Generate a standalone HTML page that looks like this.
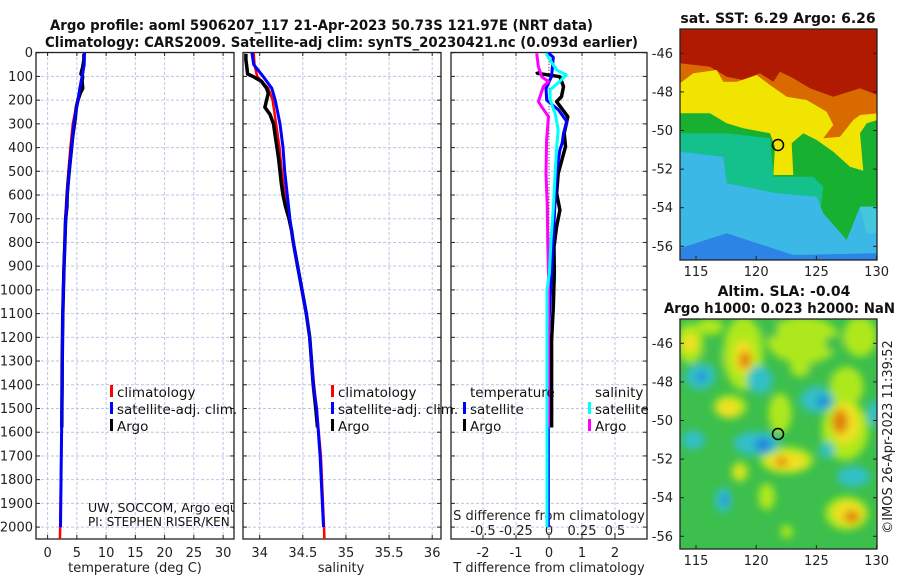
<!DOCTYPE html>
<html><head><meta charset="utf-8"><style>
html,body{margin:0;padding:0;background:#fff;}
svg{display:block;font-family:"DejaVu Sans","Liberation Sans",sans-serif;}
.tk{font-size:13px;fill:#222;}
.ttl{font-size:14px;font-weight:bold;fill:#111;}
.lg{font-size:13.5px;fill:#111;}
.grid{stroke:#b9c6e6;stroke-width:1;stroke-dasharray:3,2;}
</style></head><body>
<svg id="chart" width="900" height="580" viewBox="0 0 900 580">
<defs>
<clipPath id="c1"><rect x="36" y="52" width="198" height="487"/></clipPath>
<clipPath id="c2"><rect x="243" y="52" width="198" height="487"/></clipPath>
<clipPath id="c3"><rect x="451" y="52" width="196" height="487"/></clipPath>
<clipPath id="cm1"><rect x="680" y="29" width="197" height="231"/></clipPath>
<clipPath id="cm2"><rect x="680" y="319" width="197" height="230"/></clipPath>
<clipPath id="cnote"><rect x="36" y="490" width="198" height="40"/></clipPath>
<filter id="blur" x="-20%" y="-20%" width="140%" height="140%"><feGaussianBlur stdDeviation="4"/></filter>
</defs>
<text class="ttl" x="50" y="30" textLength="543" lengthAdjust="spacingAndGlyphs">Argo profile: aoml 5906207_117 21-Apr-2023 50.73S 121.97E (NRT data)</text>
<text class="ttl" x="45" y="47" textLength="593" lengthAdjust="spacingAndGlyphs">Climatology: CARS2009. Satellite-adj clim: synTS_20230421.nc (0.093d earlier)</text>
<g id="panels"></g>
<g id="maps"></g>
</svg>
<script>
// ---- profile data ----
const depthClim = [0,50,100,150,200,300,400,500,600,700,800,900,1000,1100,1200,1400,1500,1700,2000,2050];
const tempClim = [6.3,6.2,6.0,5.6,5.1,4.3,3.9,3.55,3.25,3.0,2.9,2.75,2.65,2.6,2.55,2.5,2.45,2.35,2.15,2.1];
const salClim = [33.93,33.94,33.97,34.10,34.15,34.19,34.23,34.255,34.29,34.34,34.39,34.44,34.49,34.54,34.58,34.63,34.66,34.71,34.745,34.75];
const depthSat = [0,50,100,150,200,300,400,500,600,700,800,900,1000,1100,1200,1400,1500,1700,2000];
const tempSat = [6.3,6.25,5.9,5.5,5.2,4.5,4.1,3.7,3.35,3.1,2.95,2.8,2.7,2.6,2.55,2.5,2.45,2.35,2.2];
const salSat = [33.91,33.93,34.04,34.14,34.18,34.235,34.27,34.29,34.32,34.35,34.39,34.44,34.49,34.54,34.58,34.62,34.66,34.70,34.74];
const depthArgo = [5,30,60,90,100,120,150,170,200,230,260,300,350,400,450,500,550,600,650,700,750,800,900,1000,1100,1200,1300,1400,1500,1580];
const tempArgo = [6.2,6.2,6.0,5.7,6.0,5.9,6.0,5.6,5.2,4.9,4.8,4.6,4.3,4.1,3.9,3.7,3.5,3.35,3.3,3.1,3.0,2.95,2.8,2.7,2.6,2.55,2.5,2.48,2.45,2.42];
const salArgo = [33.84,33.84,33.85,33.86,33.92,34.02,34.08,34.10,34.08,34.06,34.12,34.16,34.18,34.20,34.22,34.235,34.25,34.27,34.30,34.34,34.37,34.39,34.44,34.49,34.54,34.58,34.60,34.62,34.65,34.67];
const depthTSatDiff = [0,20,100,150,200,240,290,340,380,410,500,640,780,920,1050,1200,2000];
const tSatDiff = [-0.02,0.13,0.08,-0.09,-0.07,0.28,0.54,0.44,0.40,0.33,0.23,0.18,0.13,0.08,0.03,-0.02,-0.02];
const depthTArgoDiff = [80,87,101,143,185,206,270,340,396,509,593,663,733,818,930,1071,1211,1400,1580];
const tArgoDiff = [-0.37,-0.35,0.33,0.44,0.38,0.23,0.57,0.46,0.50,0.28,0.23,0.33,0.23,0.15,0.16,0.13,0.08,0.08,0.08];
const depthSSatDiff = [3,31,73,94,122,157,199,256,326,396,509,650,790,930,1000,2000];
const sSatDiff = [-0.023,0.008,0.058,0.13,0.08,0.008,0.008,0.046,0.07,0.058,0.046,0.033,0.015,0.003,-0.015,-0.015];
const depthSArgoDiff = [3,59,101,122,143,206,228,270,368,509,650,790,930,1071,1580];
const sArgoDiff = [-0.093,-0.08,-0.055,-0.004,-0.043,-0.08,-0.055,-0.004,-0.018,-0.023,-0.013,-0.01,-0.004,-0.004,-0.004];
const depthTicks = [0,100,200,300,400,500,600,700,800,900,1000,1100,1200,1300,1400,1500,1600,1700,1800,1900,2000];
const tempTicks = [0,5,10,15,20,25,30];
const salTicks = [34,34.5,35,35.5,36];
const tDiffTicks = [-2,-1,0,1,2];
const sDiffTicks = [-0.5,-0.25,0,0.25,0.5];
const latTicks = [-46,-48,-50,-52,-54,-56];
const lonTicks = [115,120,125,130];

const NS='http://www.w3.org/2000/svg';
const yD = d => 52.7 + d*0.2372;
const xT = v => 47.6 + v*5.85;
const xS = v => 259.7 + (v-34)*86.25;
const xTd = v => 549 + v*33;
const xSd = v => 549 + v*132;
const panels = document.getElementById('panels');
function mk(tag, attrs, parent){const e=document.createElementNS(NS,tag);for(const k in attrs)e.setAttribute(k,attrs[k]);(parent||panels).appendChild(e);return e;}
function txt(s, attrs, parent){const e=mk('text',attrs,parent);e.textContent=s;return e;}
function pathFrom(xs, ds, fx){return xs.map((v,i)=>(i?'L':'M')+fx(v).toFixed(1)+','+yD(ds[i]).toFixed(1)).join(' ');}

const boxes=[[36,234,'temperature-panel'],[243,441,'salinity-panel'],[451,647,'difference-panel']];
const vgrid=[tempTicks.map(xT), salTicks.map(xS), tDiffTicks.map(xTd)];
boxes.forEach((b,i)=>{
  const g=mk('g',{});
  
  
  depthTicks.forEach(d=>{
    const l=mk('line',{x1:b[0],x2:b[1],y1:yD(d),y2:yD(d),class:'grid'},g);
    
    
    mk('line',{x1:b[0],x2:b[0]+4,y1:yD(d),y2:yD(d),stroke:'#222'},g);
    mk('line',{x1:b[1],x2:b[1]-4,y1:yD(d),y2:yD(d),stroke:'#222'},g);
  });
  vgrid[i].forEach(x=>{
    const l=mk('line',{x1:x,x2:x,y1:52,y2:539,class:'grid'},g);
    
    
    mk('line',{x1:x,x2:x,y1:539,y2:535,stroke:'#222'},g);
    mk('line',{x1:x,x2:x,y1:52,y2:56,stroke:'#222'},g);
  });
  const r=mk('rect',{x:b[0],y:52.5,width:b[1]-b[0],height:486.5,fill:'none',stroke:'#222','stroke-width':1.3},g);
  
  
});
depthTicks.forEach(d=>{
  const t=txt(String(d),{x:33,y:yD(d)+4.5,'text-anchor':'end',class:'tk'});
  
  
});
tempTicks.forEach(v=>{const t=txt(String(v),{x:xT(v),y:557,'text-anchor':'middle',class:'tk'});
  
  });
salTicks.forEach(v=>{const t=txt(String(v),{x:xS(v),y:557,'text-anchor':'middle',class:'tk'});
  
  });
tDiffTicks.forEach(v=>{const t=txt(String(v),{x:xTd(v),y:557,'text-anchor':'middle',class:'tk'});
  
  });
sDiffTicks.forEach(v=>{const t=txt(String(v),{x:xSd(v),y:535,'text-anchor':'middle',class:'tk'});
  
  });
let a;
a=txt('temperature (deg C)',{x:135,y:572,'text-anchor':'middle',class:'tk'});


a=txt('salinity',{x:341,y:572,'text-anchor':'middle',class:'tk'});


a=txt('T difference from climatology',{x:549,y:572,'text-anchor':'middle',class:'tk'});


a=txt('S difference from climatology',{x:549,y:520,'text-anchor':'middle',class:'tk'});



function line(xs, ds, fx, col, w, clip, name){
  const p=mk('path',{d:pathFrom(xs,ds,fx),fill:'none',stroke:col,'stroke-width':w,'stroke-linejoin':'round','clip-path':'url(#'+clip+')'});
  
  
}
mk('line',{x1:xTd(0),x2:xTd(0),y1:52,y2:539,stroke:'#555','stroke-dasharray':'1,2'});
line(tempClim, depthClim, xT, '#f00', 2.5, 'c1', 'temperature-climatology-line');
line(tempArgo, depthArgo, xT, '#000', 3.5, 'c1', 'temperature-argo-line');
line(tempSat, depthSat, xT, '#00f', 3, 'c1', 'temperature-satellite-line');
line(salClim, depthClim, xS, '#f00', 2.5, 'c2', 'salinity-climatology-line');
line(salArgo, depthArgo, xS, '#000', 3.5, 'c2', 'salinity-argo-line');
line(salSat, depthSat, xS, '#00f', 3, 'c2', 'salinity-satellite-line');
line(tArgoDiff, depthTArgoDiff, xTd, '#000', 3.5, 'c3', 't-diff-argo-line');
line(tSatDiff, depthTSatDiff, xTd, '#00f', 3, 'c3', 't-diff-satellite-line');
line(sArgoDiff, depthSArgoDiff, xSd, '#f0f', 3, 'c3', 's-diff-argo-line');
line(sSatDiff, depthSSatDiff, xSd, '#0ff', 3, 'c3', 's-diff-satellite-line');

function legend(mx, y, col, label, name){
  const g=mk('g',{});
  
  
  mk('rect',{x:mx,y:y-7,width:3,height:12,fill:col},g);
  txt(label,{x:mx+7,y:y+5,class:'lg'},g);
}
legend(110,392,'#f00','climatology','legend-climatology-temp');
legend(110,409,'#00f','satellite-adj. clim.','legend-satellite-temp');
legend(110,426,'#000','Argo','legend-argo-temp');
legend(331,392,'#f00','climatology','legend-climatology-sal');
legend(331,409,'#00f','satellite-adj. clim.','legend-satellite-sal');
legend(331,426,'#000','Argo','legend-argo-sal');
a=txt('temperature',{x:470,y:397,class:'lg'});


a=txt('salinity',{x:595,y:397,class:'lg'});


legend(463,409,'#00f','satellite','legend-t-satellite');
legend(463,426,'#000','Argo','legend-t-argo');
legend(588,409,'#0ff','satellite','legend-s-satellite');
legend(588,426,'#f0f','Argo','legend-s-argo');
const note=mk('g',{'clip-path':'url(#cnote)'});


txt('UW, SOCCOM, Argo equivalent',{x:88,y:512,'font-size':'12.5px',fill:'#111'},note);
txt('PI: STEPHEN RISER/KEN JOHNSON',{x:88,y:526,'font-size':'12px',fill:'#111'},note);

// ---- maps ----
const maps=document.getElementById('maps');
function m(tag,attrs,parent){return mk(tag,attrs,parent||maps);}
const zp = pts => pts.map(p=>(660+p[0]/3).toFixed(1)+','+(p[1]/3).toFixed(1)).join(' ');
const g1=m('g',{'clip-path':'url(#cm1)'});


m('rect',{x:680,y:29,width:197,height:231,fill:'#b01a00'},g1);
m('polygon',{points:zp([[60,190],[150,200],[200,230],[250,240],[300,220],[340,245],[360,215],[400,235],[450,265],[520,290],[600,265],[652,285],[652,780],[60,780]]),fill:'#d86a00'},g1);
m('polygon',{points:zp([[60,250],[100,220],[170,210],[190,245],[230,245],[290,225],[330,255],[380,290],[440,300],[500,335],[520,375],[490,415],[540,410],[580,360],[600,345],[652,340],[652,780],[60,780]]),fill:'#f0e400'},g1);
m('polygon',{points:zp([[60,340],[150,340],[200,370],[250,385],[330,400],[345,440],[340,525],[400,525],[395,430],[430,400],[470,420],[520,455],[570,500],[610,512],[600,400],[620,370],[652,360],[652,780],[60,780]]),fill:'#18b030'},g1);
m('polygon',{points:zp([[60,400],[200,400],[330,415],[340,530],[460,530],[490,560],[480,640],[540,720],[652,720],[652,780],[60,780]]),fill:'#14c08c'},g1);
m('polygon',{points:zp([[60,455],[190,470],[200,550],[350,580],[470,590],[490,640],[560,720],[600,620],[652,620],[652,780],[60,780]]),fill:'#3cb8e6'},g1);
m('polygon',{points:zp([[600,620],[652,620],[652,700],[620,700]]),fill:'#44c8e0'},g1);
m('polygon',{points:zp([[60,745],[200,700],[400,765],[652,760],[652,780],[60,780]]),fill:'#2c84e4'},g1);
m('rect',{x:680,y:29,width:197,height:231,fill:'none',stroke:'#222','stroke-width':1.3});
const c1=m('circle',{cx:778,cy:145,r:5.5,fill:'none',stroke:'#000','stroke-width':1.5});



const g2=m('g',{'clip-path':'url(#cm2)'});


m('rect',{x:680,y:319,width:197,height:230,fill:'#3cbf4c'},g2);
const bg=m('g',{filter:'url(#blur)'},g2);
const zx=v=>660+v/3, zy=v=>280+v/3;
const ell=(list,col)=>list.forEach(e=>m('ellipse',{cx:zx(e[0]),cy:zy(e[1]),rx:e[2]/3,ry:e[3]/3,fill:col},bg));
ell([[90,190,40,60],[250,220,60,110],[430,180,110,70],[600,170,50,60],[560,320,50,60],[210,380,50,35],[360,400,35,60],[380,540,80,40],[555,450,70,90],[240,575,25,30],[320,650,25,40],[560,700,65,50],[380,755,18,20],[150,140,40,25],[420,260,30,30]],'#aee81c');
ell([[330,150,25,25],[520,190,25,25],[470,290,35,30],[160,240,30,40]],'#3cbf4c');
ell([[250,230,30,50],[205,385,32,26],[380,545,60,28],[555,430,42,62],[565,700,45,36],[235,580,14,17],[90,190,22,28]],'#f0e020');
ell([[255,240,18,26],[540,425,24,36],[575,710,24,18],[365,545,18,14]],'#e08010');
ell([[120,290,45,38],[300,300,38,42],[470,360,50,38],[290,490,70,36],[500,510,22,24],[190,660,25,38],[645,400,22,40],[100,480,35,28],[580,590,50,30]],'#30c0c8');
ell([[310,495,25,22],[125,290,15,15],[490,365,22,16],[195,660,10,16]],'#2088e0');
m('rect',{x:680,y:319,width:197,height:230,fill:'none',stroke:'#222','stroke-width':1.3});
const c2=m('circle',{cx:778,cy:434,r:5.5,fill:'none',stroke:'#000','stroke-width':1.5});



const lonX=v=>696+(v-115)*12.04;
[[53.3,0],[343.3,1]].forEach(([top,k])=>{
  latTicks.forEach((v,i)=>{
    const y=top+i*2*19.3;
    const t=txt(String(v),{x:673,y:y+4.5,'text-anchor':'end',class:'tk'},maps);
    
    
    m('line',{x1:680,x2:684,y1:y,y2:y,stroke:'#222'});
    m('line',{x1:877,x2:873,y1:y,y2:y,stroke:'#222'});
  });
  const by = k? 549:260;
  lonTicks.forEach(v=>{
    const t=txt(String(v),{x:lonX(v),y:by+16,'text-anchor':'middle',class:'tk'},maps);
    
    
    m('line',{x1:lonX(v),x2:lonX(v),y1:by,y2:by-4,stroke:'#222'});
  });
});
a=txt('sat. SST: 6.29 Argo: 6.26',{x:778,y:23,'text-anchor':'middle',class:'ttl','font-size':'13px'},maps);


a=txt('Altim. SLA: -0.04',{x:784,y:296,'text-anchor':'middle',class:'ttl','font-size':'13px'},maps);


a=txt('Argo h1000: 0.023 h2000: NaN',{x:664,y:313,class:'ttl','font-size':'13px',textLength:231,lengthAdjust:'spacingAndGlyphs'},maps);


a=txt('©IMOS 26-Apr-2023 11:39:52',{x:0,y:0,'text-anchor':'middle',class:'tk',transform:'translate(892,437) rotate(-90)'},maps);


</script>
</body></html>
